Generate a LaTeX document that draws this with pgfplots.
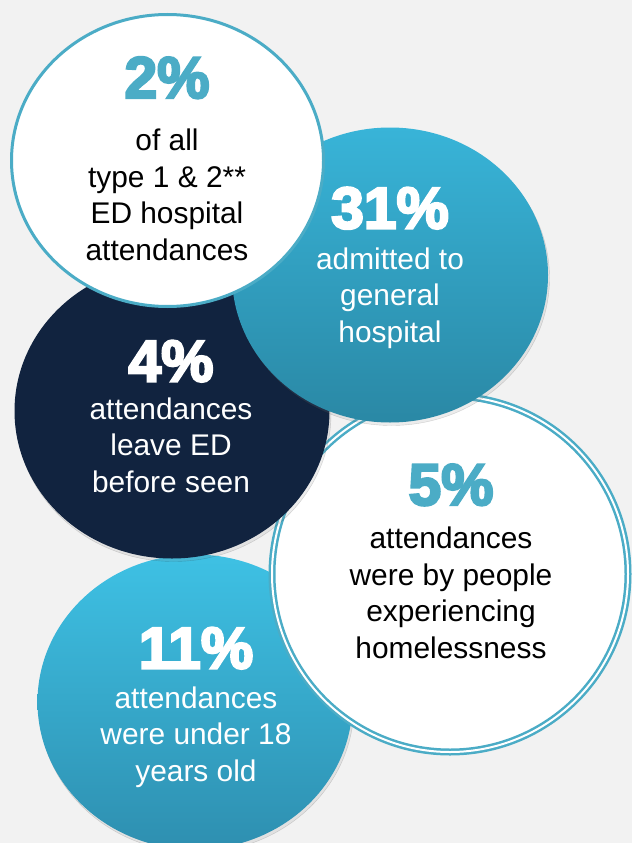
\documentclass[border=0pt]{standalone}
\usepackage{fontspec}
\setmainfont{Liberation Sans}
\newfontfamily\heavy[BoldFeatures={FakeBold=4}]{Liberation Sans}
\usepackage{pgfplots}
\pgfplotsset{compat=1.18}
\usetikzlibrary{shapes.geometric,shadows}

\definecolor{bg}{HTML}{F2F2F2}
\definecolor{aqua}{HTML}{4BACC6}
\definecolor{navy}{HTML}{11233F}
\definecolor{tealtop}{HTML}{38B4D8}
\definecolor{tealbot}{HTML}{2A88A5}
\definecolor{cyantop}{HTML}{3EC1E4}
\definecolor{cyanbot}{HTML}{2E8FB0}

\newcommand\pct[1]{{\heavy\bfseries\fontsize{59}{59}\selectfont
  \pgfmathprintnumber[assume math mode=true]{#1}\%}}

\pgfplotsset{
  bubble/.style n args={2}{only marks, mark=none, nodes near coords={},
    every node near coord/.style={ellipse, minimum width=#1, minimum height=#2,
      inner sep=0pt, anchor=center}},
  stat/.style={only marks, mark=none, point meta=explicit,
    every node near coord/.style={anchor=base, align=center, inner sep=0pt,
      font=\fontsize{30}{36.5}\selectfont, text=#1}},
}

\begin{document}
\begin{tikzpicture}
\begin{axis}[
    scale only axis, width=632bp, height=843bp,
    xmin=0, xmax=632, ymin=0, ymax=843, y dir=reverse,
    axis line style={draw=none}, xtick=\empty, ytick=\empty,
    axis background/.style={fill=bg},
    clip=false,
  ]
  % circles, back to front
  \addplot[bubble={315bp}{295bp}, every node near coord/.append style={
      top color=cyantop, bottom color=cyanbot,
      drop shadow={opacity=0.15, shadow xshift=1.5bp, shadow yshift=-3bp}}]
    coordinates {(195,702)};
  \addplot[bubble={356bp}{356bp}, every node near coord/.append style={
      fill=white, draw=aqua, line width=2.5bp, double=white, double distance=2bp}]
    coordinates {(450,574)};
  \addplot[bubble={315bp}{295bp}, every node near coord/.append style={
      fill=navy, drop shadow={opacity=0.15, shadow xshift=1.5bp, shadow yshift=-3bp}}]
    coordinates {(172,411)};
  \addplot[bubble={316bp}{295bp}, every node near coord/.append style={
      top color=tealtop, bottom color=tealbot,
      drop shadow={opacity=0.15, shadow xshift=1.5bp, shadow yshift=-3bp}}]
    coordinates {(390,275)};
  \addplot[bubble={312bp}{292bp}, every node near coord/.append style={
      fill=white, draw=aqua, line width=3bp}]
    coordinates {(167.5,160.5)};

  % texts (placed at the baseline of the last line)
  \addplot[stat=black, nodes near coords={{\color{aqua}\pct{\pgfplotspointmeta}}\\[16.5bp]
      of all\\type 1 \& 2**\\ED hospital\\attendances}]
    coordinates {(167,260) [2]};
  \addplot[stat=white, nodes near coords={\pct{\pgfplotspointmeta}\\[4.5bp]
      admitted to\\general\\hospital}]
    coordinates {(390,342) [31]};
  \addplot[stat=white, nodes near coords={\pct{\pgfplotspointmeta}\\[1.5bp]
      attendances\\leave ED\\before seen}]
    coordinates {(171,492) [4]};
  \addplot[stat=black, nodes near coords={{\color{aqua}\pct{\pgfplotspointmeta}}\\[7.5bp]
      attendances\\were by people\\experiencing\\homelessness}]
    coordinates {(451,658) [5]};
  \addplot[stat=white, nodes near coords={\pct{\pgfplotspointmeta}\\[3.5bp]
      attendances\\were under 18\\years old}]
    coordinates {(196,781) [11]};
\end{axis}
\pgfresetboundingbox
\path (current axis.south west) rectangle (current axis.north east);
\end{tikzpicture}
\end{document}
